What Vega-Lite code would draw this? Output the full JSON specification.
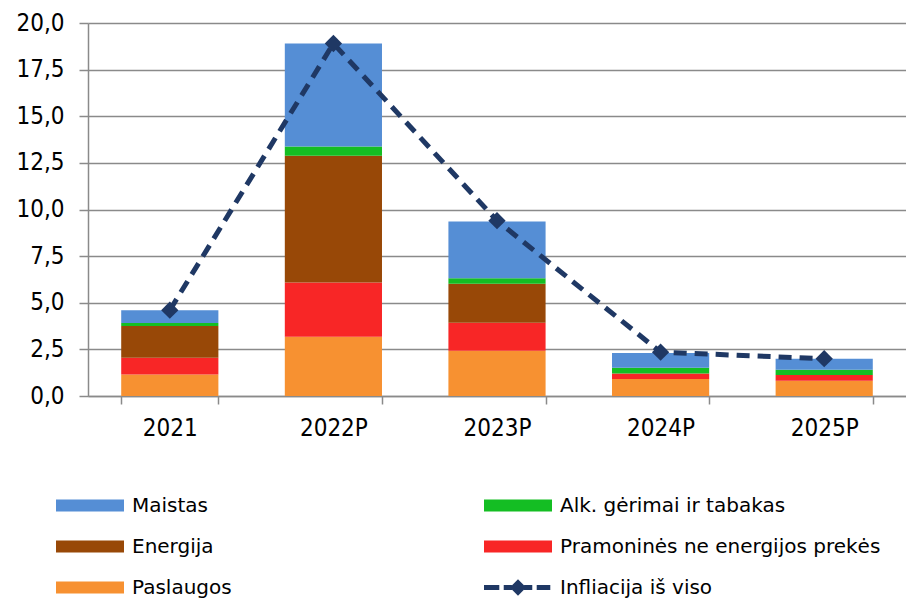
{
  "$schema": "https://vega.github.io/schema/vega-lite/v6.json",
  "width": 818,
  "height": 373,
  "autosize": {"type": "none"},
  "padding": {"left": 88, "top": 23, "right": 0, "bottom": 202},
  "background": "white",
  "config": {"view": {"stroke": null}, "font": "DejaVu Sans Condensed"},
  "datasets": {
    "bars": [
      {"year": "2021", "cat": "Paslaugos", "value": 1.15, "ord": 1},
      {"year": "2021", "cat": "Pramoninės ne energijos prekės", "value": 0.9, "ord": 2},
      {"year": "2021", "cat": "Energija", "value": 1.7, "ord": 3},
      {"year": "2021", "cat": "Alk. gėrimai ir tabakas", "value": 0.17, "ord": 4},
      {"year": "2021", "cat": "Maistas", "value": 0.68, "ord": 5},
      {"year": "2022P", "cat": "Paslaugos", "value": 3.18, "ord": 1},
      {"year": "2022P", "cat": "Pramoninės ne energijos prekės", "value": 2.91, "ord": 2},
      {"year": "2022P", "cat": "Energija", "value": 6.79, "ord": 3},
      {"year": "2022P", "cat": "Alk. gėrimai ir tabakas", "value": 0.5, "ord": 4},
      {"year": "2022P", "cat": "Maistas", "value": 5.52, "ord": 5},
      {"year": "2023P", "cat": "Paslaugos", "value": 2.43, "ord": 1},
      {"year": "2023P", "cat": "Pramoninės ne energijos prekės", "value": 1.5, "ord": 2},
      {"year": "2023P", "cat": "Energija", "value": 2.09, "ord": 3},
      {"year": "2023P", "cat": "Alk. gėrimai ir tabakas", "value": 0.3, "ord": 4},
      {"year": "2023P", "cat": "Maistas", "value": 3.04, "ord": 5},
      {"year": "2024P", "cat": "Paslaugos", "value": 0.91, "ord": 1},
      {"year": "2024P", "cat": "Pramoninės ne energijos prekės", "value": 0.29, "ord": 2},
      {"year": "2024P", "cat": "Energija", "value": 0, "ord": 3},
      {"year": "2024P", "cat": "Alk. gėrimai ir tabakas", "value": 0.32, "ord": 4},
      {"year": "2024P", "cat": "Maistas", "value": 0.78, "ord": 5},
      {"year": "2025P", "cat": "Paslaugos", "value": 0.82, "ord": 1},
      {"year": "2025P", "cat": "Pramoninės ne energijos prekės", "value": 0.31, "ord": 2},
      {"year": "2025P", "cat": "Energija", "value": 0, "ord": 3},
      {"year": "2025P", "cat": "Alk. gėrimai ir tabakas", "value": 0.28, "ord": 4},
      {"year": "2025P", "cat": "Maistas", "value": 0.59, "ord": 5}
    ],
    "total": [
      {"year": "2021", "value": 4.6},
      {"year": "2022P", "value": 18.9},
      {"year": "2023P", "value": 9.4},
      {"year": "2024P", "value": 2.35},
      {"year": "2025P", "value": 2.0}
    ]
  },
  "layer": [
    {
      "data": {"name": "bars"},
      "mark": {"type": "bar"},
      "encoding": {
        "x": {
          "field": "year", "type": "nominal", "sort": null,
          "scale": {"paddingInner": 0.406, "paddingOuter": 0.203},
          "axis": {
            "title": null, "labelAngle": 0, "tickBand": "extent", "tickSize": 8,
            "tickColor": "#8a8a8a", "tickWidth": 1.5, "domainColor": "#8a8a8a", "domainWidth": 1.5,
            "labelFontSize": 24, "labelColor": "#000000", "labelPadding": 12,
            "labelFont": "DejaVu Sans Condensed", "grid": false
          }
        },
        "y": {
          "field": "value", "type": "quantitative", "stack": "zero",
          "scale": {"domain": [0, 20], "nice": false},
          "axis": {
            "title": null,
            "values": [0, 2.5, 5, 7.5, 10, 12.5, 15, 17.5, 20],
            "labelExpr": "replace(format(datum.value, '.1f'), '.', ',')",
            "grid": true, "gridColor": "#8a8a8a", "gridWidth": 1.5,
            "domainColor": "#8a8a8a", "domainWidth": 1.5,
            "tickColor": "#8a8a8a", "tickSize": 9, "tickWidth": 1.5,
            "labelFontSize": 24, "labelColor": "#000000", "labelPadding": 15,
            "labelFont": "DejaVu Sans Condensed"
          }
        },
        "color": {
          "field": "cat", "type": "nominal",
          "scale": {
            "domain": ["Maistas", "Energija", "Paslaugos", "Alk. gėrimai ir tabakas", "Pramoninės ne energijos prekės", "Infliacija iš viso"],
            "range": ["#558ED5", "#984807", "#F79131", "#14BE23", "#F82626", "#1F3864"]
          },
          "legend": {
            "title": null, "orient": "none", "legendX": -32, "legendY": 465,
            "columns": 2, "gridAlign": "all", "columnPadding": 31, "rowPadding": 6,
            "clipHeight": 35,
            "padding": 0,
            "symbolType": "M-1,-0.18H1V0.18H-1Z", "symbolSize": 4624, "symbolStrokeWidth": 0,
            "labelFont": "DejaVu Sans", "labelFontSize": 20, "labelColor": "#000000",
            "labelOffset": 8, "labelLimit": 0,
            "encode": {
              "symbols": {
                "update": {
                  "shape": {"signal": "datum.value === 'Infliacija iš viso' ? 'M-1,-0.075H-0.55V0.075H-1Z M-0.42,-0.075H-0.18V0.075H-0.42Z M0,-0.24L0.24,0L0,0.24L-0.24,0Z M0.18,-0.075H0.42V0.075H0.18Z M0.55,-0.075H0.95V0.075H0.55Z' : 'M-1,-0.18H1V0.18H-1Z'"}
                }
              }
            }
          }
        },
        "order": {"field": "ord", "type": "quantitative"}
      }
    },
    {
      "data": {"name": "total"},
      "mark": {"type": "line", "color": "#1F3864", "strokeWidth": 5, "strokeDash": [13, 8]},
      "encoding": {
        "x": {"field": "year", "type": "nominal", "sort": null},
        "y": {"field": "value", "type": "quantitative"}
      }
    },
    {
      "data": {"name": "total"},
      "mark": {"type": "point", "shape": "diamond", "filled": true, "size": 300, "color": "#1F3864", "opacity": 1},
      "encoding": {
        "x": {"field": "year", "type": "nominal", "sort": null},
        "y": {"field": "value", "type": "quantitative"}
      }
    }
  ]
}
